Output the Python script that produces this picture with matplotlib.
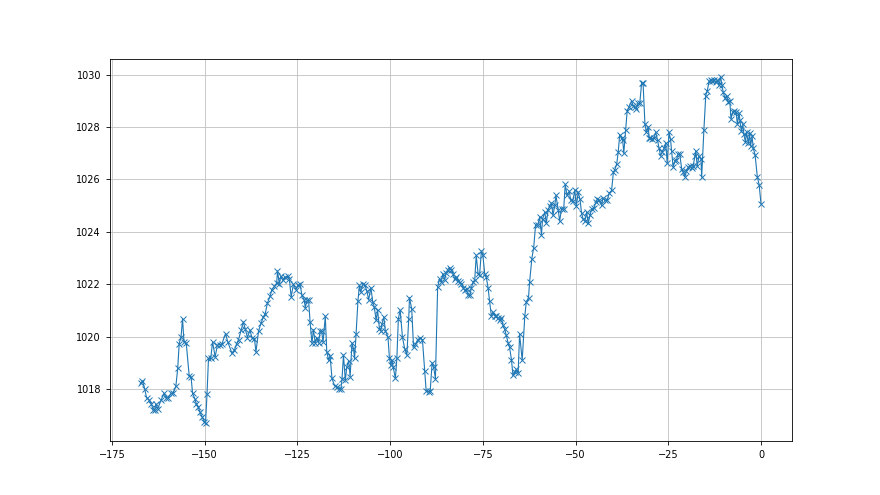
import numpy as np
import matplotlib
matplotlib.use("Agg")
import matplotlib.pyplot as plt

# hours before now
hours = [
    -167.2, -166.8, -166.2, -165.7, -165.0, -164.4, -163.9, -163.5, -163.2, -162.7,
    -161.8, -161.0, -160.5, -159.8, -159.1, -158.6, -157.8, -157.3, -156.9, -156.4,
    -156.0, -155.6, -155.0, -154.2, -153.7, -153.3, -152.7, -152.3, -151.8, -151.3,
    -150.7, -150.1, -149.8, -149.4, -149.0, -148.4, -147.9, -147.2, -146.6, -146.0,
    -145.4, -144.4, -143.8, -142.7, -142.0, -141.4, -140.9, -140.2, -139.6, -139.1,
    -138.5, -137.8, -137.3, -136.6, -136.2, -135.5, -134.8, -134.2, -133.7, -133.1,
    -132.4, -131.9, -131.2, -130.6, -130.4, -129.9, -129.5, -128.9, -128.4, -127.6,
    -127.2, -126.7, -126.1, -125.4, -124.9, -124.3, -123.8, -123.2, -122.9, -122.4,
    -122.0, -121.6, -121.1, -120.7, -120.2, -119.8, -119.3, -118.9, -118.5, -118.1,
    -117.5, -117.1, -116.6, -116.2, -115.7, -115.0, -114.4, -113.9, -113.3, -113.0,
    -112.6, -112.1, -111.7, -111.2, -110.8, -110.3, -109.9, -109.6, -109.2, -108.7,
    -108.3, -107.9, -107.4, -106.8, -106.3, -105.8, -105.2, -104.7, -104.3, -103.8,
    -103.4, -102.9, -102.5, -102.2, -101.7, -101.3, -100.6, -100.2, -99.8, -99.5,
    -99.2, -98.6, -98.2, -97.8, -97.3, -96.7, -96.1, -95.5, -95.0, -94.8,
    -94.2, -93.7, -93.2, -92.6, -91.9, -91.3, -90.7, -90.3, -89.6, -89.2,
    -88.7, -88.3, -87.8, -87.2, -86.7, -86.2, -85.8, -85.3, -84.9, -84.5,
    -84.0, -83.6, -83.1, -82.6, -82.2, -81.7, -81.3, -80.8, -80.3, -79.9,
    -79.4, -79.0, -78.5, -78.1, -77.6, -77.2, -76.8, -76.3, -75.9, -75.4,
    -75.0, -74.5, -74.1, -73.6, -73.2, -72.7, -72.3, -71.8, -71.4, -70.9,
    -70.5, -70.0, -69.6, -69.1, -68.7, -68.2, -67.8, -67.3, -66.9, -66.4,
    -66.0, -65.5, -65.1, -64.4, -63.7, -63.3, -62.7, -62.4, -61.8, -61.3,
    -60.8, -60.2, -59.7, -59.2, -58.9, -58.3, -57.9, -57.4, -57.0, -56.5,
    -56.1, -55.6, -55.3, -54.7, -54.3, -53.8, -53.2, -52.8, -52.3, -51.7,
    -51.3, -50.8, -50.2, -49.8, -49.3, -48.8, -48.4, -48.0, -47.5, -47.0,
    -46.6, -46.1, -45.7, -45.1, -44.5, -44.1, -43.6, -43.0, -42.6, -42.1,
    -41.5, -40.9, -40.3, -39.8, -39.4, -38.9, -38.5, -38.1, -37.6, -37.3,
    -37.0, -36.5, -36.1, -35.6, -34.9, -34.5, -34.1, -33.6, -33.2, -32.7,
    -32.2, -31.8, -31.3, -30.9, -30.4, -30.2, -29.8, -29.3, -28.9, -28.4,
    -27.9, -27.5, -27.1, -26.6, -26.1, -25.7, -25.3, -24.8, -24.4, -24.1,
    -23.7, -23.2, -22.8, -22.4, -21.9, -21.4, -21.0, -20.5, -20.1, -19.6,
    -19.2, -18.7, -18.3, -17.8, -17.6, -17.2, -16.7, -16.2, -16.0, -15.4,
    -14.9, -14.5, -14.0, -13.5, -13.1, -12.7, -12.2, -11.8, -11.3, -10.9,
    -10.5, -10.2, -9.7, -9.3, -8.8, -8.4, -8.1, -7.6, -7.2, -6.7,
    -6.4, -5.9, -5.7, -5.3, -4.9, -4.6, -4.2, -3.9, -3.4, -3.1,
    -2.8, -2.4, -2.1, -1.6, -1.0, -0.5, 0.0,
]

# pressure (hPa)
pressure = [
    1018.22, 1018.32, 1018.00, 1017.68, 1017.58, 1017.43, 1017.20, 1017.20, 1017.43, 1017.25,
    1017.58, 1017.84, 1017.68, 1017.68, 1017.84, 1017.84, 1018.11, 1018.79, 1019.74, 1019.99,
    1020.69, 1019.80, 1019.76, 1018.50, 1018.48, 1017.84, 1017.64, 1017.45, 1017.33, 1017.13,
    1016.94, 1016.75, 1016.70, 1017.80, 1019.17, 1019.17, 1019.80, 1019.23, 1019.68, 1019.70,
    1019.72, 1020.12, 1019.80, 1019.38, 1019.49, 1019.74, 1019.89, 1020.25, 1020.56, 1020.31,
    1019.97, 1020.25, 1019.97, 1019.93, 1019.42, 1020.22, 1020.53, 1020.75, 1020.88, 1021.29,
    1021.54, 1021.80, 1021.92, 1022.05, 1022.51, 1022.03, 1022.31, 1022.15, 1022.28, 1022.30,
    1022.20, 1021.52, 1022.00, 1021.80, 1021.97, 1022.00, 1021.58, 1021.42, 1021.11, 1021.39,
    1021.39, 1020.56, 1019.76, 1020.27, 1019.76, 1019.97, 1019.76, 1020.22, 1020.22, 1019.80,
    1020.78, 1019.42, 1019.10, 1019.27, 1018.41, 1018.13, 1018.10, 1018.02, 1018.00, 1018.37,
    1019.30, 1018.34, 1018.85, 1019.08, 1018.48, 1019.76, 1019.55, 1019.17, 1020.10, 1021.36,
    1021.96, 1021.71, 1022.00, 1021.96, 1021.75, 1021.41, 1021.87, 1021.33, 1021.14, 1020.63,
    1021.01, 1020.31, 1020.22, 1020.50, 1020.75, 1020.22, 1019.99, 1019.17, 1018.92, 1019.10,
    1018.85, 1018.41, 1019.17, 1020.69, 1021.01, 1019.99, 1019.55, 1019.30, 1020.69, 1021.49,
    1021.07, 1019.61, 1019.71, 1019.88, 1019.97, 1019.88, 1018.70, 1017.94, 1017.90, 1017.94,
    1019.00, 1018.85, 1018.40, 1021.90, 1022.20, 1022.10, 1022.41, 1022.17, 1022.44, 1022.56,
    1022.64, 1022.56, 1022.41, 1022.22, 1022.28, 1022.13, 1022.09, 1022.00, 1021.87, 1021.77,
    1021.83, 1021.58, 1021.58, 1021.87, 1022.09, 1022.17, 1023.10, 1022.41, 1022.35, 1023.27,
    1023.10, 1022.41, 1022.28, 1021.87, 1021.36, 1020.78, 1020.94, 1020.81, 1020.78, 1020.72,
    1020.65, 1020.72, 1020.44, 1020.28, 1020.06, 1019.77, 1019.59, 1019.13, 1018.53, 1018.66,
    1018.75, 1018.62, 1020.10, 1019.10, 1020.78, 1021.33, 1021.49, 1022.09, 1022.98, 1023.40,
    1024.25, 1024.28, 1024.56, 1023.90, 1024.50, 1024.75, 1024.33, 1024.85, 1024.97, 1025.10,
    1024.63, 1025.01, 1025.39, 1024.85, 1024.41, 1024.88, 1024.88, 1025.81, 1025.39, 1025.55,
    1025.20, 1025.16, 1025.58, 1024.97, 1025.52, 1025.24, 1024.72, 1024.50, 1024.41, 1024.75,
    1024.33, 1024.63, 1024.88, 1024.92, 1025.13, 1025.26, 1025.20, 1025.01, 1025.29, 1025.20,
    1025.20, 1025.48, 1025.58, 1026.28, 1026.38, 1026.60, 1027.05, 1027.71, 1027.60, 1027.50,
    1027.00, 1027.89, 1028.60, 1028.77, 1029.00, 1028.82, 1028.76, 1028.70, 1028.90, 1028.90,
    1029.67, 1029.67, 1028.12, 1027.80, 1028.00, 1027.60, 1027.60, 1027.55, 1027.58, 1027.80,
    1027.50, 1027.20, 1026.90, 1027.06, 1027.20, 1027.40, 1026.62, 1027.80, 1027.53, 1027.08,
    1026.47, 1026.70, 1026.74, 1026.97, 1026.97, 1026.40, 1026.30, 1026.11, 1026.33, 1026.47,
    1026.50, 1026.45, 1026.50, 1026.91, 1027.10, 1026.50, 1026.90, 1026.80, 1026.09, 1027.89,
    1029.20, 1029.38, 1029.74, 1029.79, 1029.74, 1029.79, 1029.70, 1029.79, 1029.59, 1029.92,
    1029.59, 1029.33, 1029.10, 1029.20, 1028.95, 1028.98, 1028.31, 1028.57, 1028.60, 1028.57,
    1028.12, 1028.53, 1028.27, 1027.84, 1028.10, 1027.72, 1027.42, 1027.80, 1027.39, 1027.76,
    1027.29, 1027.64, 1027.20, 1026.95, 1026.11, 1025.80, 1025.07,
]

fig, ax = plt.subplots(figsize=(8.8, 4.95), dpi=100)
ax.plot(hours, pressure, marker='x', markersize=4, markeredgewidth=0.7,
        linewidth=0.8, color='#1f77b4')
ax.grid(True, color='#c0c0c0', linewidth=0.6)
ax.tick_params(labelsize=7, width=0.6, length=3)
for s in ax.spines.values():
    s.set_linewidth(0.6)

plt.savefig('out.png', dpi=100)
